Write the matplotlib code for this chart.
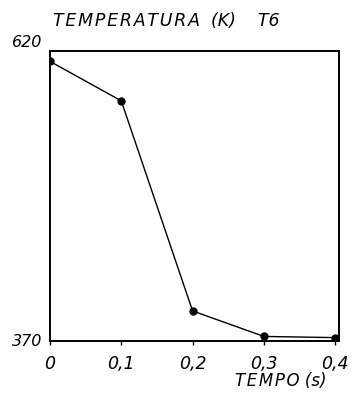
import matplotlib.pyplot as plt

# temperatura no ponto T6 ao longo do tempo
tempo = [0.0, 0.1, 0.2, 0.3, 0.4]
temperatura = [611, 577, 396, 374, 373]
tick_pos = [0.0, 0.1, 0.2, 0.3, 0.4]
tick_lbl = ['0', '0,1', '0,2', '0,3', '0,4']


def espacado(txt):
    # letras afastadas com hair space
    return '\u200a'.join(txt)


plt.rcParams['font.family'] = ['DejaVu Sans']
fig = plt.figure(figsize=(3.57, 3.98), dpi=100)
ax = fig.add_axes([0.140, 0.143, 0.810, 0.729])

ax.plot(tempo, temperatura, color='black', lw=1.0, marker='o', ms=5)
ax.set_xlim(0, 0.4056)
ax.set_ylim(370, 620)

for s in ax.spines.values():
    s.set_linewidth(1.4)

ax.set_xticks(tick_pos)
ax.set_xticklabels(tick_lbl, fontsize=12.5, style='italic')
ax.tick_params(axis='x', direction='out', length=3, width=1, pad=7)
ax.set_yticks([])

# limites do eixo y escritos a mao
ax.text(-0.011, 621, '620', fontsize=11.5, style='italic',
        ha='right', va='bottom')
ax.text(-0.011, 370, '370', fontsize=11.5, style='italic',
        ha='right', va='center')

fig.text(0.148, 0.948, espacado('TEMPERATURA') + '  (K)    T6', fontsize=12.5,
         style='italic', ha='left', va='center')
fig.text(0.658, 0.042, espacado('TEMPO') + ' (s)', fontsize=12, style='italic',
         ha='left', va='center')

plt.savefig('out.png', dpi=100)
